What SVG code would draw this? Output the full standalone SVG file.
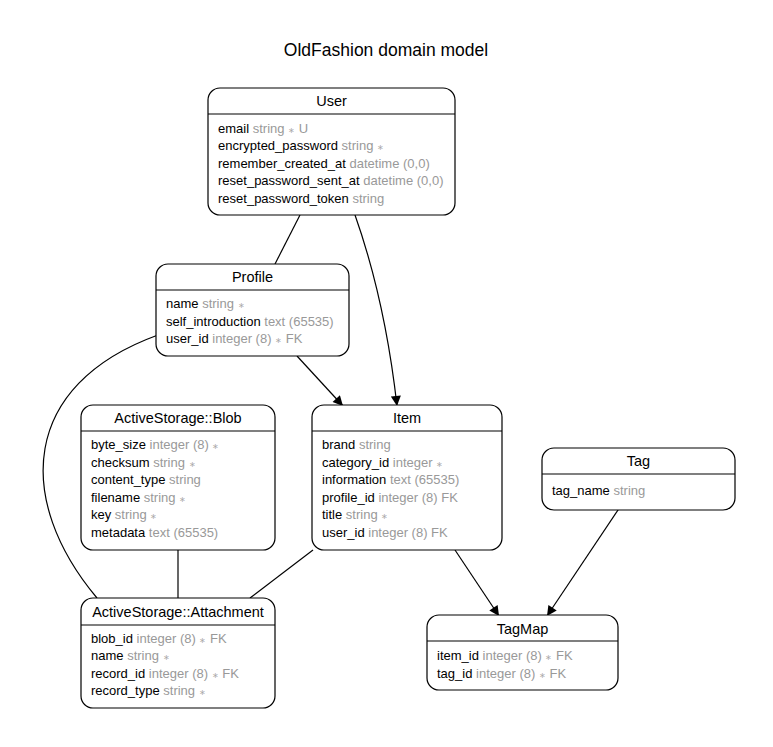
<svg xmlns="http://www.w3.org/2000/svg" width="773" height="747" viewBox="0 0 773 747">
<style>
.box{fill:#fff;stroke:#000;stroke-width:1.2}
.sep{stroke:#000;stroke-width:1.2}
.hd{font-family:"Liberation Sans",Arial,sans-serif;font-size:14.5px;text-anchor:middle;fill:#000}
.row{font-family:"Liberation Sans",Arial,sans-serif;font-size:13px;fill:#000}
.t{fill:#999}
.s{font-size:8px;fill:#aaa}
.edge{fill:none;stroke:#000;stroke-width:1.2}
.ttl{font-family:"Liberation Sans",Arial,sans-serif;font-size:17.5px;text-anchor:middle;fill:#000}
</style>
<defs>
<marker id="arr" viewBox="0 0 10 10" refX="10" refY="5" markerWidth="12" markerHeight="10" markerUnits="userSpaceOnUse" orient="auto">
<path d="M0,0 L10,5 L0,10 z" fill="#000"/>
</marker>
</defs>
<rect width="773" height="747" fill="#fff"/>
<text class="ttl" x="386" y="56">OldFashion domain model</text>

<g id="connectors">
<line class="edge" x1="300" y1="215" x2="275" y2="264"/>
<path class="edge" d="M355,215 Q385,300 397,406" marker-end="url(#arr)"/>
<line class="edge" x1="297" y1="356" x2="343" y2="406" marker-end="url(#arr)"/>
<path class="edge" d="M158,335 C20,385 15,500 97,598"/>
<line class="edge" x1="178" y1="550" x2="178" y2="598"/>
<line class="edge" x1="313" y1="550" x2="250" y2="598"/>
<line class="edge" x1="455" y1="550" x2="499" y2="616" marker-end="url(#arr)"/>
<line class="edge" x1="620" y1="507" x2="547" y2="616" marker-end="url(#arr)"/>
</g>

<g id="User">
<rect class="box" x="208" y="88" width="247" height="127" rx="12"/>
<line class="sep" x1="208" y1="114" x2="455" y2="114"/>
<text class="hd" x="331.5" y="106">User</text>
<text class="row" x="218" y="133">email <tspan class="t">string <tspan class="s">∗</tspan> U</tspan></text>
<text class="row" x="218" y="150">encrypted_password <tspan class="t">string <tspan class="s">∗</tspan></tspan></text>
<text class="row" x="218" y="168">remember_created_at <tspan class="t">datetime (0,0)</tspan></text>
<text class="row" x="218" y="185">reset_password_sent_at <tspan class="t">datetime (0,0)</tspan></text>
<text class="row" x="218" y="203">reset_password_token <tspan class="t">string</tspan></text>
</g>

<g id="Profile">
<rect class="box" x="156" y="264" width="193" height="92" rx="12"/>
<line class="sep" x1="156" y1="290" x2="349" y2="290"/>
<text class="hd" x="252.5" y="282">Profile</text>
<text class="row" x="166" y="308">name <tspan class="t">string <tspan class="s">∗</tspan></tspan></text>
<text class="row" x="166" y="326">self_introduction <tspan class="t">text (65535)</tspan></text>
<text class="row" x="166" y="343">user_id <tspan class="t">integer (8) <tspan class="s">∗</tspan> FK</tspan></text>
</g>

<g id="ActiveStorage_Blob">
<rect class="box" x="81" y="405" width="194" height="145" rx="12"/>
<line class="sep" x1="81" y1="431" x2="275" y2="431"/>
<text class="hd" x="178" y="423">ActiveStorage::Blob</text>
<text class="row" x="91" y="449">byte_size <tspan class="t">integer (8) <tspan class="s">∗</tspan></tspan></text>
<text class="row" x="91" y="467">checksum <tspan class="t">string <tspan class="s">∗</tspan></tspan></text>
<text class="row" x="91" y="484">content_type <tspan class="t">string</tspan></text>
<text class="row" x="91" y="502">filename <tspan class="t">string <tspan class="s">∗</tspan></tspan></text>
<text class="row" x="91" y="519">key <tspan class="t">string <tspan class="s">∗</tspan></tspan></text>
<text class="row" x="91" y="537">metadata <tspan class="t">text (65535)</tspan></text>
</g>

<g id="Item">
<rect class="box" x="312" y="405" width="190" height="145" rx="12"/>
<line class="sep" x1="312" y1="431" x2="502" y2="431"/>
<text class="hd" x="407" y="423">Item</text>
<text class="row" x="322" y="449">brand <tspan class="t">string</tspan></text>
<text class="row" x="322" y="467">category_id <tspan class="t">integer <tspan class="s">∗</tspan></tspan></text>
<text class="row" x="322" y="484">information <tspan class="t">text (65535)</tspan></text>
<text class="row" x="322" y="502">profile_id <tspan class="t">integer (8) FK</tspan></text>
<text class="row" x="322" y="519">title <tspan class="t">string <tspan class="s">∗</tspan></tspan></text>
<text class="row" x="322" y="537">user_id <tspan class="t">integer (8) FK</tspan></text>
</g>

<g id="Tag">
<rect class="box" x="542" y="448" width="193" height="62" rx="12"/>
<line class="sep" x1="542" y1="474" x2="735" y2="474"/>
<text class="hd" x="638.5" y="466">Tag</text>
<text class="row" x="552" y="495">tag_name <tspan class="t">string</tspan></text>
</g>

<g id="ActiveStorage_Attachment">
<rect class="box" x="81" y="598" width="194" height="110" rx="12"/>
<line class="sep" x1="81" y1="625" x2="275" y2="625"/>
<text class="hd" x="178" y="617">ActiveStorage::Attachment</text>
<text class="row" x="91" y="643">blob_id <tspan class="t">integer (8) <tspan class="s">∗</tspan> FK</tspan></text>
<text class="row" x="91" y="660">name <tspan class="t">string <tspan class="s">∗</tspan></tspan></text>
<text class="row" x="91" y="678">record_id <tspan class="t">integer (8) <tspan class="s">∗</tspan> FK</tspan></text>
<text class="row" x="91" y="695">record_type <tspan class="t">string <tspan class="s">∗</tspan></tspan></text>
</g>

<g id="TagMap">
<rect class="box" x="427" y="615" width="191" height="75" rx="12"/>
<line class="sep" x1="427" y1="641" x2="618" y2="641"/>
<text class="hd" x="522.5" y="634">TagMap</text>
<text class="row" x="437" y="660">item_id <tspan class="t">integer (8) <tspan class="s">∗</tspan> FK</tspan></text>
<text class="row" x="437" y="678">tag_id <tspan class="t">integer (8) <tspan class="s">∗</tspan> FK</tspan></text>
</g>
</svg>
